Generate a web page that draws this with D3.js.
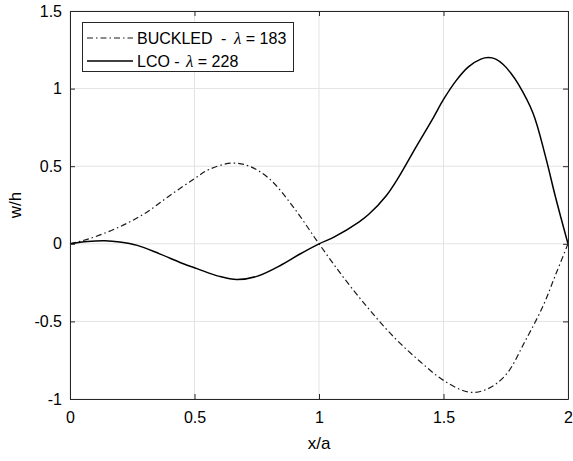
<!DOCTYPE html>
<html><head><meta charset="utf-8">
<script src="https://cdn.jsdelivr.net/npm/d3@7"></script>
<style>body{margin:0;background:#fff}svg{display:block}</style>
</head><body>
<svg id="c" width="573" height="461"></svg>
<script>
const buckledX = [0,0.05,0.1,0.2,0.3,0.4,0.5,0.56,0.65,0.72,0.8,0.9,1.0,1.1,1.2,1.3,1.4,1.5,1.6,1.67,1.75,1.83,1.9,1.95,2.0];
const buckledY = [0,0.02,0.045,0.11,0.195,0.31,0.42,0.48,0.52,0.50,0.42,0.23,0,-0.22,-0.42,-0.6,-0.75,-0.88,-0.955,-0.94,-0.845,-0.62,-0.4,-0.2,0];
const lcoX = [0,0.07,0.14,0.2,0.27,0.36,0.45,0.51,0.6,0.67,0.75,0.85,0.92,1.0,1.06,1.16,1.2,1.27,1.32,1.39,1.46,1.5,1.55,1.6,1.65,1.68,1.71,1.74,1.77,1.8,1.86,1.91,1.95,2.0];
const lcoY = [0,0.015,0.02,0.012,-0.01,-0.065,-0.125,-0.16,-0.21,-0.23,-0.21,-0.135,-0.069,0,0.043,0.14,0.19,0.31,0.43,0.625,0.815,0.93,1.05,1.14,1.19,1.2,1.19,1.155,1.10,1.03,0.84,0.56,0.30,0];
const xTicks = [0,0.5,1,1.5,2];
const xTickLabels = ["0","0.5","1","1.5","2"];
const yTicks = [-1,-0.5,0,0.5,1,1.5];
const yTickLabels = ["-1","-0.5","0","0.5","1","1.5"];
const legendNames = ["BUCKLED","LCO -"];
const legendLambda = ["λ","λ"];
const legendValues = [" = 183"," = 228"];

(function(){
const svg = d3.select("#c");
const L=70,R=568,T=11,B=399;
const x = d3.scaleLinear().domain([0,2]).range([L,R]);
const y = d3.scaleLinear().domain([-1,1.5]).range([B,T]);
const axisCol="#262626", gridCol="#e3e3e3";
const font="'Liberation Sans', Arial, sans-serif";

const g = svg.append("g");
g.selectAll(".gx").data(xTicks).join("line").attr("x1",d=>x(d)).attr("x2",d=>x(d)).attr("y1",T).attr("y2",B).attr("stroke",gridCol).attr("stroke-width",1);
g.selectAll(".gy").data(yTicks).join("line").attr("y1",d=>y(d)).attr("y2",d=>y(d)).attr("x1",L).attr("x2",R).attr("stroke",gridCol).attr("stroke-width",1);

const line = d3.line().x(d=>x(d[0])).y(d=>y(d[1])).curve(d3.curveCatmullRom.alpha(0.5));
const bData = buckledX.map((v,i)=>[v,buckledY[i]]);
const lData = lcoX.map((v,i)=>[v,lcoY[i]]);
svg.append("path").attr("d",line(bData)).attr("fill","none").attr("stroke","#1a1a1a").attr("stroke-width",1.2).attr("stroke-dasharray","6,3,1.5,3");
svg.append("path").attr("d",line(lData)).attr("fill","none").attr("stroke","#000").attr("stroke-width",1.5);

const tl=5;
const axB = svg.append("g").attr("transform",`translate(0,${B})`).call(d3.axisBottom(x).tickValues(xTicks).tickFormat((d,i)=>xTickLabels[i]).tickSizeInner(-tl).tickSizeOuter(0).tickPadding(13));
const axT = svg.append("g").attr("transform",`translate(0,${T})`).call(d3.axisTop(x).tickValues(xTicks).tickFormat("").tickSizeInner(-tl).tickSizeOuter(0));
const axL = svg.append("g").attr("transform",`translate(${L},0)`).call(d3.axisLeft(y).tickValues(yTicks).tickFormat((d,i)=>yTickLabels[i]).tickSizeInner(-tl).tickSizeOuter(0).tickPadding(8));
const axR = svg.append("g").attr("transform",`translate(${R},0)`).call(d3.axisRight(y).tickValues(yTicks).tickFormat("").tickSizeInner(-tl).tickSizeOuter(0));
[axB,axT,axL,axR].forEach(a=>{
  a.selectAll("path").attr("stroke",axisCol).attr("stroke-width",1);
  a.selectAll("line").attr("stroke",axisCol).attr("stroke-width",1);
  a.selectAll("text").attr("fill","#000").style("font-family",font).style("font-size","16px");
});
axB.selectAll("text").attr("dy","0.71em");

svg.append("text").attr("x",(L+R)/2).attr("y",449).attr("text-anchor","middle").style("font-family",font).style("font-size","17px").text("x/a");
svg.append("text").attr("transform",`translate(21,${(T+B)/2}) rotate(-90)`).attr("text-anchor","middle").style("font-family",font).style("font-size","17px").text("w/h");

const lg = svg.append("g");
lg.append("rect").attr("x",82.5).attr("y",22.5).attr("width",211).attr("height",49).attr("fill","#fff").attr("stroke",axisCol).attr("stroke-width",1);
const rows=[38,61];
const lamX=[234,186];
lg.append("line").attr("x1",87).attr("x2",133).attr("y1",rows[0]).attr("y2",rows[0]).attr("stroke","#1a1a1a").attr("stroke-width",1.2).attr("stroke-dasharray","6,3,1.5,3");
lg.append("line").attr("x1",87).attr("x2",133).attr("y1",rows[1]).attr("y2",rows[1]).attr("stroke","#000").attr("stroke-width",1.5);
legendNames.forEach((nm,i)=>{
  const t = lg.append("text").attr("x",137).attr("y",rows[i]).attr("dy","0.36em").style("font-family",font).style("font-size","16px").attr("xml:space","preserve").style("white-space","pre");
  t.append("tspan").text(nm);
  if(i===0) t.append("tspan").attr("x",221).text("-");
  t.append("tspan").attr("x",lamX[i]).style("font-family","'Liberation Serif', 'Times New Roman', serif").style("font-style","italic").style("font-size","17px").text(legendLambda[i]);
  t.append("tspan").text(legendValues[i]);
});
})();
</script>
</body></html>
